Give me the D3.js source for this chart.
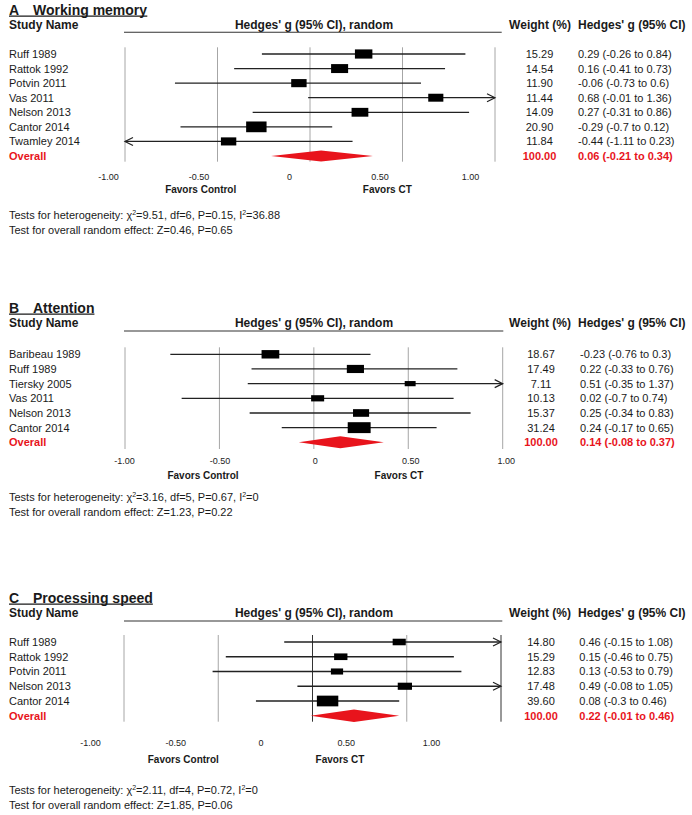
<!DOCTYPE html>
<html><head><meta charset="utf-8">
<script src="https://cdn.jsdelivr.net/npm/d3@7"></script>
<style>
body{margin:0;background:#fff}
text{font-family:"Liberation Sans",Arial,sans-serif;fill:#1a1a1a}
</style>
</head><body>
<svg id="chart" width="692" height="815"></svg>
<script>
// ---------------- data ----------------
const tickValues = [-1, -0.5, 0, 0.5, 1];
const tickLabels = ["-1.00", "-0.50", "0", "0.50", "1.00"];

// A: Working memory
const wmStudies = ["Ruff 1989", "Rattok 1992", "Potvin 2011", "Vas 2011", "Nelson 2013", "Cantor 2014", "Twamley 2014"];
const wmG      = [0.29, 0.16, -0.06, 0.68, 0.27, -0.29, -0.44];
const wmLo     = [-0.26, -0.41, -0.73, -0.01, -0.31, -0.7, -1.11];
const wmHi     = [0.84, 0.73, 0.6, 1.36, 0.86, 0.12, 0.23];
const wmWeight = [15.29, 14.54, 11.90, 11.44, 14.09, 20.90, 11.84];
const wmOverall = [0.06, -0.21, 0.34];      // g, lo, hi
const wmHet = [9.51, 6, 0.15, 36.88];       // chi2, df, P, I2
const wmTest = [0.46, 0.65];                // Z, P

// B: Attention
const atStudies = ["Baribeau 1989", "Ruff 1989", "Tiersky 2005", "Vas 2011", "Nelson 2013", "Cantor 2014"];
const atG      = [-0.23, 0.22, 0.51, 0.02, 0.25, 0.24];
const atLo     = [-0.76, -0.33, -0.35, -0.7, -0.34, -0.17];
const atHi     = [0.3, 0.76, 1.37, 0.74, 0.83, 0.65];
const atWeight = [18.67, 17.49, 7.11, 10.13, 15.37, 31.24];
const atOverall = [0.14, -0.08, 0.37];
const atHet = [3.16, 5, 0.67, 0];
const atTest = [1.23, 0.22];

// C: Processing speed
const psStudies = ["Ruff 1989", "Rattok 1992", "Potvin 2011", "Nelson 2013", "Cantor 2014"];
const psG      = [0.46, 0.15, 0.13, 0.49, 0.08];
const psLo     = [-0.15, -0.46, -0.53, -0.08, -0.3];
const psHi     = [1.08, 0.75, 0.79, 1.05, 0.46];
const psWeight = [14.80, 15.29, 12.83, 17.48, 39.60];
const psOverall = [0.22, -0.01, 0.46];
const psHet = [2.11, 4, 0.72, 0];
const psTest = [1.85, 0.06];

// ---------------- layout ----------------
const RED = "#e8141c";
const layouts = {
  A: {title:10, header:25, line:32.3, lineX:[124,501.7], row0:54, step:14.57, gridTop:47.3, gridBot:161.7,
      tickY:176.7, favY:189, test1:215, test2:230, xRange:[125,495], labelRange:[108,470],
      favCtrl:200.7, favCT:387.3, area:10.5, aspect:1.9, diamondH:11, darkGrid:[], weightX:539.5, ciX:578},
  B: {title:308, header:323, line:331, lineX:[124,503.3], row0:354.3, step:14.67, gridTop:347.3, gridBot:449,
      tickY:461, favY:475, test1:497, test2:512, xRange:[125,502.7], labelRange:[124,505.7],
      favCtrl:203, favCT:399, area:8, aspect:2.1, diamondH:12, darkGrid:[], weightX:541, ciX:580},
  C: {title:598, header:613, line:621, lineX:[124,502.3], row0:642, step:14.75, gridTop:635, gridBot:721.7,
      tickY:742.5, favY:759.5, test1:790, test2:805, xRange:[124,501], labelRange:[90,431],
      favCtrl:183.3, favCT:340, area:5.8, aspect:2.0, diamondH:12.5, darkGrid:[0,1], weightX:541, ciX:579.3}
};

const panels = [
  {letter:"A", title:"Working memory", studies:wmStudies, g:wmG, lo:wmLo, hi:wmHi, weight:wmWeight, overall:wmOverall, het:wmHet, test:wmTest, L:layouts.A},
  {letter:"B", title:"Attention", studies:atStudies, g:atG, lo:atLo, hi:atHi, weight:atWeight, overall:atOverall, het:atHet, test:atTest, L:layouts.B},
  {letter:"C", title:"Processing speed", studies:psStudies, g:psG, lo:psLo, hi:psHi, weight:psWeight, overall:psOverall, het:psHet, test:psTest, L:layouts.C}
];

const svg = d3.select("#chart");
svg.append("rect").attr("width",692).attr("height",815).attr("fill","#fff");

function txt(sel, x, yc, s, size, opts = {}) {
  const t = sel.append("text").attr("x", x).attr("y", yc + 0.36 * size)
    .style("font-size", size + "px").text(s);
  if (opts.bold) t.style("font-weight", "bold");
  if (opts.anchor) t.attr("text-anchor", opts.anchor);
  if (opts.fill) t.style("fill", opts.fill);
  return t;
}

function drawPanel(p) {
  const L = p.L;
  const g = svg.append("g");
  const x = d3.scaleLinear().domain([-1, 1]).range(L.xRange);
  const xl = d3.scaleLinear().domain([-1, 1]).range(L.labelRange);
  const y = d3.scalePoint().domain([...p.studies, "Overall"])
    .range([L.row0, L.row0 + L.step * p.studies.length]);
  const size = d3.scaleSqrt().domain([0, 100]).range([0, Math.sqrt(100 * L.area * L.aspect)]);

  // title
  const t = g.append("text").attr("x", 9).attr("y", L.title + 0.36 * 14)
    .style("font-size", "14px").style("font-weight", "bold");
  t.append("tspan").text(p.letter);
  t.append("tspan").attr("x", 33).text(p.title);
  const bb = t.node().getBBox();
  g.append("line").attr("x1", 9).attr("x2", bb.x + bb.width)
    .attr("y1", L.title + 6.2).attr("y2", L.title + 6.2)
    .attr("stroke", "#1a1a1a").attr("stroke-width", 1.3);

  // headers
  txt(g, 9, L.header, "Study Name", 12, {bold: true});
  txt(g, 314, L.header, "Hedges' g (95% CI), random", 12, {bold: true, anchor: "middle"});
  txt(g, 540, L.header, "Weight (%)", 12, {bold: true, anchor: "middle"});
  txt(g, 578, L.header, "Hedges' g (95% CI)", 12, {bold: true});
  g.append("line").attr("x1", L.lineX[0]).attr("x2", L.lineX[1])
    .attr("y1", L.line).attr("y2", L.line).attr("stroke", "#333").attr("stroke-width", 1.1);

  // grid lines
  g.selectAll(".grid").data(tickValues).join("line")
    .attr("x1", d => x(d)).attr("x2", d => x(d))
    .attr("y1", L.gridTop).attr("y2", L.gridBot)
    .attr("stroke", d => L.darkGrid.includes(d) ? "#333" : "#a6a6a6")
    .attr("stroke-width", 1);

  const rows = p.studies.map((s, i) => ({name: s, g: p.g[i], lo: p.lo[i], hi: p.hi[i], w: p.weight[i]}));

  // CI lines
  g.selectAll(".ci").data(rows).join("line")
    .attr("x1", d => x(Math.max(d.lo, -1))).attr("x2", d => x(Math.min(d.hi, 1)))
    .attr("y1", d => y(d.name)).attr("y2", d => y(d.name))
    .attr("stroke", "#222").attr("stroke-width", 1.3);

  // arrows
  g.selectAll(".arrR").data(rows.filter(d => d.hi > 1)).join("path")
    .attr("d", d => `M${x(1) - 8},${y(d.name) - 4}L${x(1)},${y(d.name)}L${x(1) - 8},${y(d.name) + 4}`)
    .attr("fill", "none").attr("stroke", "#222").attr("stroke-width", 1.2);
  g.selectAll(".arrL").data(rows.filter(d => d.lo < -1)).join("path")
    .attr("d", d => `M${x(-1) + 8},${y(d.name) - 4}L${x(-1)},${y(d.name)}L${x(-1) + 8},${y(d.name) + 4}`)
    .attr("fill", "none").attr("stroke", "#222").attr("stroke-width", 1.2);

  // squares
  g.selectAll(".sq").data(rows).join("rect")
    .attr("x", d => x(d.g) - size(d.w) / 2)
    .attr("y", d => y(d.name) - size(d.w) / L.aspect / 2)
    .attr("width", d => size(d.w))
    .attr("height", d => size(d.w) / L.aspect)
    .attr("fill", "#000");

  // overall diamond
  const [og, olo, ohi] = p.overall;
  const oy = y("Overall"), h = L.diamondH / 2;
  g.append("path")
    .attr("d", `M${x(olo)},${oy}L${x(og)},${oy - h}L${x(ohi)},${oy}L${x(og)},${oy + h}Z`)
    .attr("fill", RED);

  // row labels & columns
  rows.forEach(d => {
    txt(g, 9, y(d.name), d.name, 11);
    txt(g, L.weightX, y(d.name), d.w.toFixed(2), 11, {anchor: "middle"});
    txt(g, L.ciX, y(d.name), `${d.g} (${d.lo} to ${d.hi})`, 11);
  });
  txt(g, 9, oy, "Overall", 11, {bold: true, fill: RED});
  txt(g, L.weightX, oy, (100).toFixed(2), 11, {bold: true, fill: RED, anchor: "middle"});
  txt(g, L.ciX, oy, `${og} (${olo} to ${ohi})`, 11, {bold: true, fill: RED});

  // axis labels
  const ax = d3.axisBottom(xl).tickValues(tickValues)
    .tickFormat((d, i) => tickLabels[i]).tickSize(0).tickPadding(0);
  const axg = g.append("g").attr("transform", `translate(0,${L.tickY})`).call(ax)
    .attr("font-family", null).attr("font-size", null);
  axg.select(".domain").remove();
  axg.selectAll("text").attr("y", 0).attr("dy", "0.36em").style("font-size", "9px").style("fill", "#222");

  txt(g, L.favCtrl, L.favY, "Favors Control", 10, {bold: true, anchor: "middle"});
  txt(g, L.favCT, L.favY, "Favors CT", 10, {bold: true, anchor: "middle"});

  // tests
  const [chi, df, P, I2] = p.het;
  const t1 = g.append("text").attr("x", 9).attr("y", L.test1 + 4).style("font-size", "11px");
  t1.append("tspan").text("Tests for heterogeneity: χ");
  t1.append("tspan").attr("dy", -4).style("font-size", "7px").text("2");
  t1.append("tspan").attr("dy", 4).text(`=${chi}, df=${df}, P=${P}, I`);
  t1.append("tspan").attr("dy", -4).style("font-size", "7px").text("2");
  t1.append("tspan").attr("dy", 4).text(`=${I2}`);
  const [Z, Pz] = p.test;
  txt(g, 9, L.test2, `Test for overall random effect: Z=${Z}, P=${Pz}`, 11);
}

panels.forEach(drawPanel);
</script>
</body></html>
